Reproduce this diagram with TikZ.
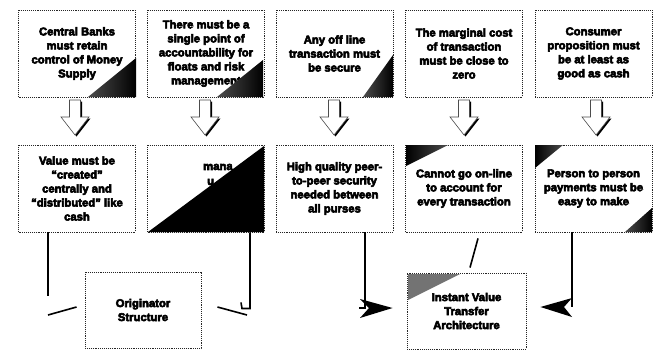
\documentclass[tikz,border=0pt]{standalone}
\usepackage{fontspec}
\setmainfont{Liberation Sans}
\usetikzlibrary{arrows.meta}
\newcommand\heavyfont{\fontsize{11.3}{14}\selectfont\bfseries\special{pdf:literal direct 2 Tr 0.55 w}}
\begin{document}
\begin{tikzpicture}[x=1pt,y=-1pt,
  box/.style={draw=black!85, densely dotted, line width=0.9pt, minimum width=117pt, minimum height=87pt, inner sep=0pt, align=center, font=\heavyfont},
  lowbox/.style={box, minimum width=117pt, minimum height=76pt},
  conn/.style={line width=1.6pt, black},
  tri/.style={left color=black!70, right color=black},
  trir/.style={left color=black, right color=black!70},
  hollow/.style={fill=white, draw=black!70, line width=0.6pt}]
\useasboundingbox (0,0) rectangle (661,351);
\fill[white] (0,0) rectangle (661,351);
% top row
\node[box] (b11) at (77,53.5) {Central Banks\\must retain\\control of Money\\Supply};
\node[box] (b12) at (206,53.5) {There must be a\\single point of\\accountability for\\floats and risk\\management};
\node[box] (b13) at (334.5,53.5) {Any off line\\transaction must\\be secure};
\node[box] (b14) at (464,53.5) {The marginal cost\\of transaction\\must be close to\\zero};
\node[box] (b15) at (593.5,53.5) {Consumer\\proposition must\\be at least as\\good as cash};
% second row
\node[box] (b21) at (77,188.5) {Value must be\\“created”\\centrally and\\“distributed” like\\cash};
\node[box] (b22) at (206,188.5) {};
\node[font=\heavyfont, anchor=west, inner sep=0pt] (t22a) at (203,167) {mana};
\node[font=\heavyfont, anchor=west, inner sep=0pt] (t22b) at (207,182) {u};
\node[box] (b23) at (334.5,188.5) {High quality peer-\\to-peer security\\needed between\\all purses};
\node[box] (b24) at (464,188.5) {Cannot go on-line\\to account for\\every transaction};
\node[box] (b25) at (593.5,188.5) {Person to person\\payments must be\\easy to make};
% bottom row
\node[lowbox, minimum width=116pt] (orig) at (143,310) {Originator\\Structure};
\node[lowbox, minimum width=119pt] (ivt) at (466.5,311) {Instant Value\\Transfer\\Architecture};
% corner triangles
\shade[tri] (88,97) -- (136,58) -- (136,97) -- cycle;
\shade[tri] (217,97) -- (263,60) -- (263,97) -- cycle;
\shade[tri] (363,97) -- (393,55) -- (393,97) -- cycle;
\fill[black] (148,232) -- (264,146) -- (264,232) -- cycle;
\shade[trir] (406,145) -- (448,145) -- (406,166) -- cycle;
\shade[trir] (535,145) -- (563,145) -- (535,168) -- cycle;
\shade[tri] (652,208) -- (652,232) -- (625,232) -- cycle;
\fill[black!55] (408,274) -- (460,274) -- (408,300) -- cycle;
% hollow arrows
\foreach \cx in {75,205,334,464,596}{
  \begin{scope}[shift={(\cx,100)}]
    \fill[black] (-4,1.5) -- (7,1.5) -- (7,18.5) -- (15.5,18.5) -- (1.5,36.5) -- (-12.5,18.5) -- (-4,18.5) -- cycle;
    \filldraw[hollow] (-5.5,0) -- (5.5,0) -- (5.5,17) -- (14,17) -- (0,35) -- (-14,17) -- (-5.5,17) -- cycle;
  \end{scope}
}
% connectors to Originator Structure
\coordinate (oL) at ([xshift=-8pt,yshift=3pt]orig.west);
\coordinate (oR) at ([xshift=16pt,yshift=3pt]orig.east);
\draw[conn] ([xshift=-29pt]b21.south) -- ++(0,64);
\draw[conn] (48,315) -- (oL);
\draw[conn] ([xshift=44pt]b22.south) -- ++(0,76) -- ++(-8,0) -- ++(-1,-6);
\draw[conn] (247,315) -- (oR);
% connectors to Instant Value Transfer Architecture
\coordinate (iL) at ([xshift=-14pt,yshift=3pt]ivt.west);
\coordinate (iR) at ([xshift=14pt,yshift=4pt]ivt.east);
\draw[conn] ([xshift=30.5pt]b23.south) |- ([xshift=-6pt]iL -| 365,0);
\fill[black] (iL) -- (360,299) -- (369,308) -- (360,318) -- cycle;
\draw[conn] ([xshift=-21.5pt]b25.south) -- (572,307);
\fill[black] (iR) -- (572,298) -- (564,307) -- (572,317) -- cycle;
\coordinate (iT) at ([xshift=3.5pt,yshift=5pt]ivt.north);
\draw[conn] ([xshift=14pt,yshift=-6pt]b24.south) -- (iT);
\end{tikzpicture}
\end{document}
